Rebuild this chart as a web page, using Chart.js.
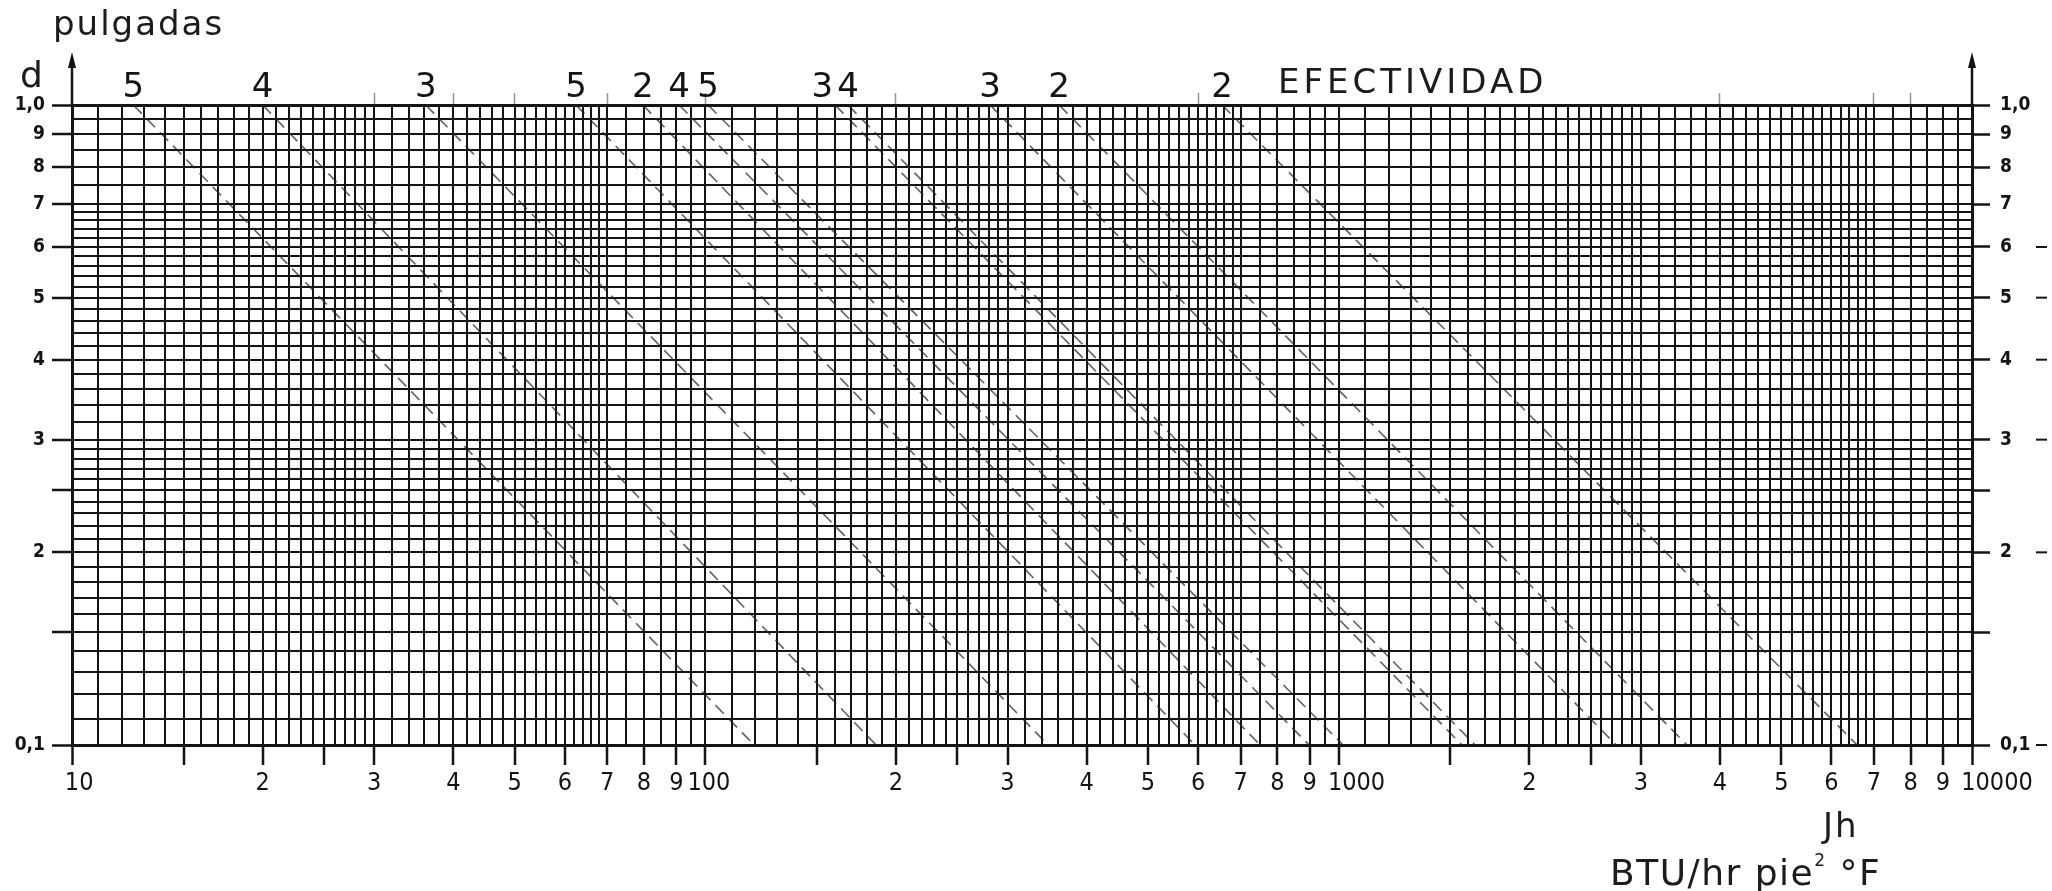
<!DOCTYPE html>
<html>
<head>
<meta charset="utf-8">
<title>Efectividad - d vs Jh</title>
<script src="https://cdn.jsdelivr.net/npm/chart.js@4.4.1/dist/chart.umd.min.js"></script>
<style>
    html, body { margin: 0; padding: 0; background: #fff; }
    #wrap { position: relative; width: 2052px; height: 891px; overflow: hidden; background: #fff; }
    #chart { position: absolute; left: 0; top: 0; }
    .note { position: absolute; font-family: "DejaVu Sans", sans-serif; color: #1c1c1c; white-space: nowrap; line-height: 1; }
</style>
</head>
<body>
<div id="wrap">
    <canvas id="chart" width="2052" height="891"></canvas>
    <div class="note" style="left:53px; top:6px; font-size:34px; letter-spacing:2px">pulgadas</div>
    <div class="note" style="left:20px; top:57px; font-size:36px">d</div>
    <div class="note" style="left:1278px; top:64px; font-size:34px; letter-spacing:4px">EFECTIVIDAD</div>
    <div class="note" style="left:1823px; top:808px; font-size:34px; letter-spacing:2px">Jh</div>
    <div class="note" style="left:1610px; top:852px; font-size:36px; letter-spacing:1.5px">BTU/hr pie<sup style="font-size:17px; vertical-align:19px">2</sup> °F</div>
</div>
<script>
// graph paper: one decade of vertical rulings (multiplied by 10, 100, 1000)
const decades = [10, 100, 1000]
const decadeRulings = [
    1.0, 1.1, 1.2, 1.3, 1.4, 1.5, 1.6, 1.7, 1.8, 1.9,
    2.0, 2.1, 2.2, 2.3, 2.4, 2.5, 2.6, 2.7, 2.8, 2.9,
    3.0, 3.2, 3.4, 3.6, 3.8, 4.0, 4.2, 4.4, 4.6, 4.8,
    5.0, 5.2, 5.4, 5.6, 5.8, 6.0, 6.2, 6.4, 6.6, 6.8,
    7.0, 7.5, 8.0, 8.5, 9.0, 9.5
]

// horizontal rulings (d, pulgadas)
const yRulings = [
    0.10, 0.11, 0.12, 0.13, 0.14, 0.15, 0.16, 0.17, 0.18, 0.19,
    0.20, 0.21, 0.22, 0.23, 0.24, 0.25, 0.26, 0.27, 0.28, 0.29,
    0.30, 0.32, 0.34, 0.36, 0.38, 0.40, 0.42, 0.44, 0.46, 0.48,
    0.50, 0.52, 0.54, 0.56, 0.58, 0.60, 0.62, 0.64, 0.66, 0.68,
    0.70, 0.75, 0.80, 0.85, 0.90, 0.95, 1.00
]

// tick labels (powers of ten sit to the right of their tick, as on the paper)
const xLabelValues = [10, 20, 30, 40, 50, 60, 70, 80, 90, 100, 200, 300, 400, 500, 600, 700, 800, 900, 1000, 2000, 3000, 4000, 5000, 6000, 7000, 8000, 9000, 10000]
const xLabelTexts = ["  10", "2", "3", "4", "5", "6", "7", "8", "9", " 100", "2", "3", "4", "5", "6", "7", "8", "9", "     1000", "2", "3", "4", "5", "6", "7", "8", "9", "       10000"]
const xBlankMarks = [15, 25, 150, 250, 1500, 2500]
const xTopMarks = [30, 40, 50, 70, 100, 200, 600, 4000, 7000, 8000]

const yLabelValues = [1.0, 0.9, 0.8, 0.7, 0.6, 0.5, 0.4, 0.3, 0.2, 0.1]
const yLabelTexts = ["1,0", "9", "8", "7", "6", "5", "4", "3", "2", "0,1"]
const yBlankMarks = [0.25, 0.15]
const yRightDashes = [0.6, 0.5, 0.4, 0.3, 0.2, 0.1]

// effectiveness lines: Jh where each line leaves d = 1,0 and reaches d = 0,1
const effLabels = ["5", "4", "3", "5", "2", "4", "5", "3", "4", "3", "2", "2"]
const effTopJh = [12.5, 20.0, 36.2, 62.5, 79.7, 90.9, 101.0, 160.3, 168.0, 281.6, 361.9, 654.4]
const effBottomJh = [119.4, 186.0, 347.6, 593.3, 751.5, 898.1, 1016, 1566, 1642, 2742, 3548, 6586]

const key = v => Math.round(v * 1000)

const xRulings = []
decades.forEach(d => decadeRulings.forEach(m => xRulings.push(+(d * m).toFixed(3))))
xRulings.push(10000)

const xLabelMap = new Map(xLabelValues.map((v, i) => [key(v), xLabelTexts[i]]))
const xMarks = new Set([...xLabelValues, ...xBlankMarks].map(key))
const yLabelMap = new Map(yLabelValues.map((v, i) => [key(v), yLabelTexts[i]]))
const yMarks = new Set([...yLabelValues, ...yBlankMarks].map(key))

const ink = "#141414"
const tickFamily = '"DejaVu Sans Condensed", "DejaVu Sans", sans-serif'

const markColor = (marks) => (ctx) => (ctx.tick && marks.has(key(ctx.tick.value)) ? ink : "rgba(0,0,0,0)")
const rulingWidth = (edges) => (ctx) => (ctx.tick && edges.includes(key(ctx.tick.value)) ? 3 : 2)

const paperMarks = {
    id: "paperMarks",
    afterDraw(chart) {
        const { ctx, chartArea, scales } = chart
        ctx.save()
        ctx.strokeStyle = ink
        ctx.fillStyle = ink
        ctx.lineWidth = 2.5
        // axis arrows above the sheet
        for (const x of [chartArea.left, chartArea.right]) {
            ctx.beginPath()
            ctx.moveTo(x, chartArea.top)
            ctx.lineTo(x, 58)
            ctx.stroke()
            ctx.beginPath()
            ctx.moveTo(x, 52)
            ctx.lineTo(x - 4, 68)
            ctx.lineTo(x + 4, 68)
            ctx.closePath()
            ctx.fill()
        }

        // small dashes after some right-hand labels
        ctx.lineWidth = 2
        yRightDashes.forEach(v => {
            const y = scales.y2.getPixelForValue(v)
            ctx.beginPath()
            ctx.moveTo(2036, y)
            ctx.lineTo(2047, y)
            ctx.stroke()
        })

        // effectiveness numbers over each line
        ctx.font = '34px "DejaVu Sans", sans-serif'
        ctx.textBaseline = "alphabetic"
        const px = effTopJh.map(v => scales.x.getPixelForValue(v))
        px.forEach((x, i) => {
            let align = "center"
            let dx = 0
            if (i < px.length - 1 && px[i + 1] - x < 24) { align = "right"; dx = -2 }
            ctx.textAlign = align
            ctx.fillText(effLabels[i], x + dx, 97)
        })
        ctx.restore()
    }
}

const datasets = effLabels.map((label, i) => ({
    label: label,
    data: [{ x: effTopJh[i], y: 1.0 }, { x: effBottomJh[i], y: 0.1 }],
    borderColor: "rgba(35,35,35,0.72)",
    borderWidth: 1.6,
    borderDash: [12, 7],
    pointRadius: 0,
    fill: false,
    tension: 0
}))

const chartEl = document.querySelector("#chart")
new Chart(chartEl.getContext("2d"), {
    type: "line",
    data: { datasets },
    options: {
        responsive: false,
        animation: false,
        devicePixelRatio: 1,
        layout: { padding: 0 },
        plugins: { legend: { display: false }, tooltip: { enabled: false } },
        scales: {
            x: {
                type: "logarithmic",
                position: "bottom",
                min: 10,
                max: 10000,
                afterBuildTicks: scale => { scale.ticks = xRulings.map(v => ({ value: v })) },
                afterFit: scale => { scale.height = 146 },
                ticks: {
                    autoSkip: false,
                    maxRotation: 0,
                    padding: 3,
                    color: ink,
                    font: { family: tickFamily, size: 25 },
                    callback: v => xLabelMap.get(key(v)) ?? ""
                },
                grid: {
                    color: ink,
                    lineWidth: rulingWidth([key(10), key(10000)]),
                    drawTicks: true,
                    tickLength: 20,
                    tickWidth: 2.5,
                    tickColor: markColor(xMarks)
                },
                border: { display: true, color: ink, width: 3 }
            },
            xTop: {
                type: "logarithmic",
                position: "top",
                min: 10,
                max: 10000,
                afterBuildTicks: scale => { scale.ticks = xTopMarks.map(v => ({ value: v })) },
                afterFit: scale => { scale.height = 105 },
                ticks: { autoSkip: false, display: true, color: "rgba(0,0,0,0)", callback: () => "" },
                grid: {
                    drawOnChartArea: false,
                    drawTicks: true,
                    tickLength: 12,
                    tickWidth: 1.5,
                    tickColor: "rgba(60,60,60,0.55)"
                },
                border: { display: true, color: ink, width: 3 }
            },
            y: {
                type: "logarithmic",
                position: "left",
                min: 0.1,
                max: 1.0,
                afterBuildTicks: scale => { scale.ticks = yRulings.map(v => ({ value: v })) },
                afterFit: scale => { scale.width = 72 },
                ticks: {
                    autoSkip: false,
                    padding: 7,
                    color: ink,
                    font: { family: tickFamily, size: 19, weight: "bold" },
                    callback: v => yLabelMap.get(key(v)) ?? ""
                },
                grid: {
                    color: ink,
                    lineWidth: rulingWidth([key(1.0), key(0.1)]),
                    drawTicks: true,
                    tickLength: 20,
                    tickWidth: 2.5,
                    tickColor: markColor(yMarks)
                },
                border: { display: true, color: ink, width: 3 }
            },
            y2: {
                type: "logarithmic",
                position: "right",
                min: 0.1,
                max: 1.0,
                afterBuildTicks: scale => { scale.ticks = yRulings.map(v => ({ value: v })) },
                afterFit: scale => { scale.width = 80 },
                ticks: {
                    autoSkip: false,
                    padding: 10,
                    color: ink,
                    font: { family: tickFamily, size: 19, weight: "bold" },
                    callback: v => yLabelMap.get(key(v)) ?? ""
                },
                grid: {
                    drawOnChartArea: false,
                    drawTicks: true,
                    tickLength: 18,
                    tickWidth: 2.5,
                    tickColor: markColor(yMarks)
                },
                border: { display: true, color: ink, width: 3 }
            }
        }
    },
    plugins: [paperMarks]
})
</script>
</body>
</html>
